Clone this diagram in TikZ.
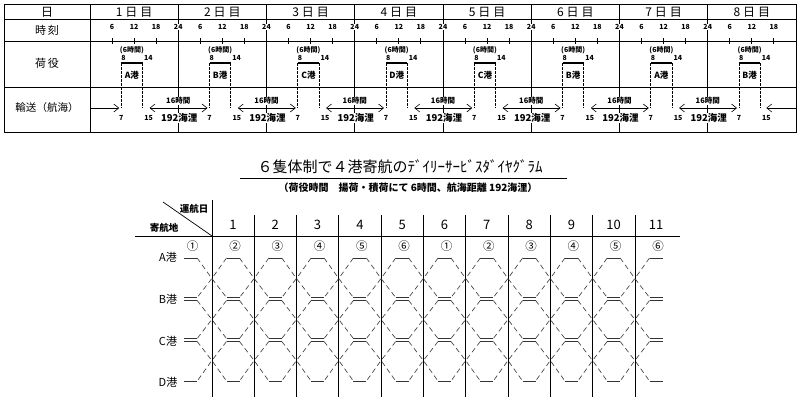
\documentclass[tikz,border=0pt]{standalone}
\usepackage{fontspec}
\setmainfont{Noto Sans CJK JP}
\usetikzlibrary{arrows.meta}
\newcommand\fsz[1]{\fontsize{#1}{#1}\selectfont}
\newcommand\hexside[2]{%
  \draw[diag] ({#1+(#2)*6.5},258) -- ({#1+(#2)*21.15},278.5) -- ({#1+(#2)*6.5},297.5);
  \draw[diag] ({#1+(#2)*6.5},300.5) -- ({#1+(#2)*21.15},319.5) -- ({#1+(#2)*6.5},338.5);
  \draw[diag] ({#1+(#2)*6.5},341.5) -- ({#1+(#2)*21.15},360.5) -- ({#1+(#2)*6.5},381);
}
\begin{document}
\begin{tikzpicture}[x=1pt,y=-1pt,
  tbl/.style={line width=0.9pt},
  hdr/.style={inner sep=0.5pt,font=\fsz{12}},
  tiny/.style={inner sep=0.4pt,font=\fsz{7}\bfseries},
  tinyw/.style={tiny,fill=white},
  portlbl/.style={inner sep=0.5pt,font=\fsz{8.5}\bfseries},
  bar/.style={line width=2.4pt},
  dsh/.style={line width=0.7pt,dash pattern=on 2.5pt off 1.5pt},
  arw/.style={line width=0.6pt,-{Straight Barb[length=5pt,width=8pt]}},
  darw/.style={line width=0.6pt,{Straight Barb[length=5pt,width=8pt]}-{Straight Barb[length=5pt,width=8pt]}},
  gline/.style={line width=0.7pt},
  diag/.style={line width=0.65pt,black!75,dash pattern=on 5pt off 3.5pt},
  pbar/.style={line width=0.75pt,black!80},
  circ/.style={inner sep=0pt,font=\fsz{11.5}},
  colnum/.style={inner sep=0.5pt,font=\fsz{13}},
  rowlbl/.style={inner sep=0.5pt,font=\fsz{11}},
  hd/.style={inner sep=0.5pt,font=\fsz{9.5}\bfseries}
]
\useasboundingbox (0,0) rectangle (800,400);
\fill[white] (0,0) rectangle (800,400);

% ---------- top table ----------
\draw[tbl] (4,4) rectangle (796,132);
\draw[tbl] (4,19) -- (796,19);
\draw[tbl] (4,41) -- (796,41);
\draw[tbl] (4,87) -- (796,87);
\draw[tbl] (90,4) -- (90,132);
\foreach \d in {1,...,7} \draw[tbl] ({90+88.25*\d},4) -- ({90+88.25*\d},132);

\node[hdr] (hday) at (47,12) {日};
\node[hdr,font=\fsz{11}] (htime) at (47,30) {時\hspace{2pt}刻};
\node[hdr,font=\fsz{11}] (hcargo) at (47,63) {荷\hspace{2pt}役};
\node[hdr,font=\fsz{10.5}] (htrans) at (47,108) {輸送（航海）};

\foreach \d/\p [evaluate=\d as \dn using int(\d+1)] in {0/A,1/B,2/C,3/D,4/C,5/B,6/A,7/B}{
  \pgfmathsetmacro\xo{90+88.25*\d}
  \pgfmathsetmacro\bl{\xo+8.5*3.677}
  \pgfmathsetmacro\br{\xo+14.3*3.677}
  \node[hdr] (day\d) at ({\xo+44.1},12) {\dn\hspace{3pt}日\hspace{3pt}目};
  \foreach \hh in {6,12,18}{
    \draw[tbl] ({\xo+\hh*3.677},38) -- ({\xo+\hh*3.677},44);
    \node[tiny] (tk\d-\hh) at ({\xo+\hh*3.677},27) {\hh};
  }
  \coordinate (bl\d) at (\bl,63);
  \coordinate (br\d) at (\br,63);
  \coordinate (al\d) at (\bl,108);
  \coordinate (ar\d) at (\br,108);
  \draw[bar] (bl\d) -- (br\d);
  \draw[dsh] (bl\d) -- (al\d);
  \draw[dsh] (br\d) -- (ar\d);
  \node[tiny] (six\d) at ({(\bl+\br)/2},50) {(6時間)};
  \node[tiny,anchor=south west] (st\d) at ({\bl-0.5},61) {8};
  \node[tiny,anchor=south west] (en\d) at ({\br+1},61) {14};
  \node[portlbl] (p\d) at ({(\bl+\br)/2},75) {\p 港};
  \node[tiny] (arr\d) at (\bl,118) {7};
  \node[tiny] (dep\d) at ({\br+6},118) {15};
}
\foreach \d in {0,...,6}
  \node[tinyw] (tf\d) at ({90+88.25*(\d+1)},27) {24};

\coordinate (tstart) at (90,108);
\coordinate (tend) at (796,108);
\draw[arw] (tstart) -- ([xshift=-2pt]al0);
\draw[arw] (tend) -- ([xshift=6pt]ar7);
\foreach \d [evaluate=\d as \n using int(\d+1)] in {0,...,6}{
  \draw[darw] ([xshift=7pt]ar\d) -- ([xshift=-2pt]al\n);
  \node[inner sep=0.6pt,fill=white,font=\fsz{7.5}\bfseries] (hr\d) at ({90+88.25*(\d+1)},101) {16時間};
  \node[inner sep=0.6pt,fill=white,font=\fsz{9.5}\bfseries] (nm\d) at ({90+88.25*(\d+1)+1},118) {192海浬};
}

% ---------- bottom diagram ----------
\node[inner sep=0pt,font=\fsz{15}] (ttl) at (400,167) {６隻体制で４港寄航のﾃﾞｲﾘｰｻｰﾋﾞｽﾀﾞｲﾔｸﾞﾗﾑ};
\draw[line width=0.8pt] (240,178) -- (567,178);
\node[inner sep=0pt,font=\fsz{10}\bfseries] (sub) at (408,188) {（荷役時間　揚荷・積荷にて 6時間、航海距離 192海浬）};

\draw[gline] (135,236) -- (680,236);
\draw[gline] (163,202) -- (212,236);
\draw[gline] (212,200) -- (212,397);
\foreach \j in {1,...,10} \draw[gline] ({211.85+42.3*\j},215) -- ({211.85+42.3*\j},397);

\node[hd,anchor=east] (unko) at (209,209) {運航日};
\node[hd] (kiko) at (164,228) {寄航地};
\foreach \k in {1,...,11} \node[colnum] (n\k) at ({190.7+42.3*\k},225) {\k};

\node[rowlbl] (rA) at (168,257) {A港};
\node[rowlbl] (rB) at (168,299) {B港};
\node[rowlbl] (rC) at (168,341) {C港};
\node[rowlbl] (rD) at (168,382) {D港};

\foreach \k/\c in {0/①,1/②,2/③,3/④,4/⑤,5/⑥,6/①,7/②,8/③,9/④,10/⑤,11/⑥}
  \node[circ] (s\k) at ({190.7+42.3*\k+2},246) {\c};

\foreach \k in {0,...,11}{
  \pgfmathsetmacro\cx{190.7+42.3*\k}
  \draw[pbar] ({\cx-6.5},258) -- ({\cx+6.5},258);
  \draw[pbar] ({\cx-6.5},297.5) -- ({\cx+6.5},297.5);
  \draw[pbar] ({\cx-6.5},300.5) -- ({\cx+6.5},300.5);
  \draw[pbar] ({\cx-6.5},338.5) -- ({\cx+6.5},338.5);
  \draw[pbar] ({\cx-6.5},341.5) -- ({\cx+6.5},341.5);
  \draw[pbar] ({\cx-6.5},381) -- ({\cx+6.5},381);
  \ifnum\k>0 \hexside{\cx}{-1}\fi
  \ifnum\k<11 \hexside{\cx}{1}\fi
}
\end{tikzpicture}
\end{document}
